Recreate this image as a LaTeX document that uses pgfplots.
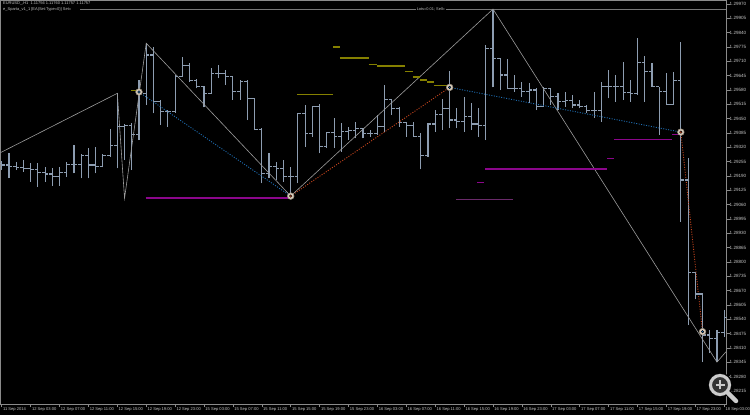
\documentclass[border=0pt]{standalone}
\usepackage{fontspec}
\setmainfont{Liberation Sans}
\usepackage{pgfplots}
\pgfplotsset{compat=1.18}
\usepackage{pgfplotstable}

\definecolor{barcol}{HTML}{8D9DB1}
\definecolor{framecol}{HTML}{8A8A8A}
\definecolor{zigcol}{HTML}{9C9C9C}
\definecolor{lvlmag}{HTML}{8B068B}
\definecolor{lvlmagdim}{HTML}{6A2A6A}
\definecolor{lvlolive}{HTML}{858000}
\definecolor{dotblue}{HTML}{1F6FB5}
\definecolor{dotred}{HTML}{C8461E}
\definecolor{txtcol}{HTML}{C4C4C4}
\definecolor{ringfill}{HTML}{DCD0C0}
\definecolor{ringdraw}{HTML}{9A9080}
\definecolor{topline}{HTML}{777777}

% OHLC ticks of a bar chart: open to the left, close to the right
\pgfdeclareplotmark{ohlcopen}{\pgfpathmoveto{\pgfqpoint{-3.2bp}{0pt}}\pgfpathlineto{\pgfqpoint{0pt}{0pt}}\pgfusepathqstroke}
\pgfdeclareplotmark{ohlcclose}{\pgfpathmoveto{\pgfqpoint{0pt}{0pt}}\pgfpathlineto{\pgfqpoint{3.2bp}{0pt}}\pgfusepathqstroke}

% EURUSD H1 bars, bar index 0 = 11 Sep 2014 23:00
\pgfplotstableread{
i o h l c
0 1.29247 1.29259 1.29217 1.29240
1 1.29240 1.29293 1.29179 1.29232
2 1.29232 1.29255 1.29217 1.29229
3 1.29229 1.29262 1.29209 1.29225
4 1.29225 1.29247 1.29164 1.29220
5 1.29220 1.29250 1.29141 1.29205
6 1.29205 1.29232 1.29164 1.29199
7 1.29199 1.29225 1.29145 1.29187
8 1.29187 1.29232 1.29145 1.29205
9 1.29205 1.29252 1.29187 1.29243
10 1.29243 1.29330 1.29202 1.29243
11 1.29243 1.29288 1.29179 1.29281
12 1.29281 1.29316 1.29179 1.29240
13 1.29240 1.29323 1.29202 1.29235
14 1.29235 1.29290 1.29229 1.29282
15 1.29282 1.29402 1.29277 1.29330
16 1.29330 1.29565 1.29225 1.29413
17 1.29413 1.29426 1.29262 1.29418
18 1.29418 1.29429 1.29217 1.29380
19 1.29380 1.29625 1.29353 1.29565
20 1.29565 1.29792 1.29512 1.29739
21 1.29739 1.29776 1.29474 1.29527
22 1.29527 1.29535 1.29421 1.29481
23 1.29481 1.29489 1.29413 1.29481
24 1.29481 1.29648 1.29477 1.29640
25 1.29640 1.29731 1.29640 1.29693
26 1.29693 1.29701 1.29618 1.29625
27 1.29625 1.29628 1.29588 1.29595
28 1.29595 1.29598 1.29501 1.29565
29 1.29565 1.29678 1.29562 1.29656
30 1.29656 1.29693 1.29633 1.29656
31 1.29656 1.29671 1.29603 1.29640
32 1.29640 1.29643 1.29535 1.29575
33 1.29575 1.29625 1.29535 1.29618
34 1.29618 1.29625 1.29444 1.29542
35 1.29542 1.29542 1.29398 1.29402
36 1.29402 1.29406 1.29157 1.29202
37 1.29202 1.29293 1.29179 1.29232
38 1.29232 1.29255 1.29172 1.29225
39 1.29225 1.29262 1.29164 1.29187
40 1.29187 1.29231 1.29099 1.29187
41 1.29187 1.29476 1.29158 1.29474
42 1.29474 1.29512 1.29323 1.29384
43 1.29384 1.29507 1.29368 1.29504
44 1.29504 1.29515 1.29293 1.29323
45 1.29323 1.29391 1.29316 1.29386
46 1.29386 1.29452 1.29316 1.29368
47 1.29368 1.29429 1.29300 1.29391
48 1.29391 1.29413 1.29353 1.29398
49 1.29398 1.29436 1.29361 1.29406
50 1.29406 1.29406 1.29361 1.29384
51 1.29384 1.29398 1.29368 1.29384
52 1.29384 1.29467 1.29376 1.29413
53 1.29413 1.29603 1.29391 1.29535
54 1.29535 1.29538 1.29467 1.29497
55 1.29497 1.29504 1.29413 1.29432
56 1.29432 1.29436 1.29368 1.29421
57 1.29421 1.29436 1.29368 1.29371
58 1.29371 1.29384 1.29220 1.29285
59 1.29285 1.29429 1.29277 1.29426
60 1.29426 1.29489 1.29391 1.29467
61 1.29467 1.29538 1.29398 1.29497
62 1.29497 1.29667 1.29406 1.29444
63 1.29444 1.29497 1.29406 1.29436
64 1.29436 1.29547 1.29391 1.29459
65 1.29459 1.29520 1.29398 1.29426
66 1.29426 1.29497 1.29368 1.29421
67 1.29421 1.29784 1.29353 1.29769
68 1.29769 1.29947 1.29592 1.29724
69 1.29724 1.29724 1.29580 1.29648
70 1.29648 1.29719 1.29583 1.29588
71 1.29588 1.29648 1.29572 1.29588
72 1.29588 1.29618 1.29550 1.29572
73 1.29572 1.29610 1.29520 1.29580
74 1.29580 1.29589 1.29489 1.29504
75 1.29504 1.29595 1.29504 1.29588
76 1.29588 1.29588 1.29512 1.29550
77 1.29550 1.29565 1.29489 1.29527
78 1.29527 1.29572 1.29504 1.29531
79 1.29531 1.29557 1.29497 1.29512
80 1.29512 1.29535 1.29497 1.29507
81 1.29507 1.29512 1.29474 1.29489
82 1.29489 1.29572 1.29452 1.29489
83 1.29489 1.29618 1.29436 1.29595
84 1.29595 1.29671 1.29542 1.29595
85 1.29595 1.29648 1.29527 1.29595
86 1.29595 1.29708 1.29535 1.29568
87 1.29568 1.29625 1.29527 1.29565
88 1.29565 1.29814 1.29557 1.29704
89 1.29704 1.29734 1.29527 1.29663
90 1.29663 1.29701 1.29595 1.29595
91 1.29595 1.29595 1.29376 1.29572
92 1.29572 1.29656 1.29512 1.29516
93 1.29516 1.29663 1.29516 1.29625
94 1.29625 1.29799 1.28983 1.29172
95 1.29172 1.29272 1.28514 1.28751
96 1.28751 1.28756 1.28631 1.28655
97 1.28655 1.28655 1.28346 1.28469
98 1.28469 1.28491 1.28387 1.28455
99 1.28455 1.28491 1.28346 1.28482
100 1.28482 1.28582 1.28460 1.28550
}\ohlc

\begin{document}
\begin{tikzpicture}
\fill[black] (0,0) rectangle (750bp,415bp);
\useasboundingbox (0,0) rectangle (750bp,415bp);
\begin{axis}[
  at={(0.5bp,414.5bp)}, anchor=north west,
  width=725.5bp, height=403.5bp, scale only axis,
  xmin=-0.17, xmax=100.25, ymin=1.28156, ymax=1.29986,
  axis line style={framecol, line width=0.8bp},
  tick align=outside, major tick length=3.5bp,
  tick style={framecol, line width=0.6bp},
  xtick={0,4,...,100},
  xticklabels={11 Sep 2014,12 Sep 03:00,12 Sep 07:00,12 Sep 11:00,12 Sep 15:00,12 Sep 19:00,12 Sep 23:00,15 Sep 03:00,15 Sep 07:00,15 Sep 11:00,15 Sep 15:00,15 Sep 19:00,15 Sep 23:00,16 Sep 03:00,16 Sep 07:00,16 Sep 11:00,16 Sep 15:00,16 Sep 19:00,16 Sep 23:00,17 Sep 03:00,17 Sep 07:00,17 Sep 11:00,17 Sep 15:00,17 Sep 19:00,17 Sep 23:00,18 Sep 03:00},
  x tick label style={anchor=north west, font=\fontsize{4.1}{5}\selectfont, text=txtcol, inner sep=0pt, xshift=1.2bp},
  ytick={1.28215,1.28280,1.28345,1.28410,1.28475,1.28540,1.28605,1.28670,1.28735,1.28800,1.28865,1.28930,1.28995,1.29060,1.29125,1.29190,1.29255,1.29320,1.29385,1.29450,1.29515,1.29580,1.29645,1.29710,1.29775,1.29840,1.29905,1.29970},
  yticklabel pos=right,
  scaled y ticks=false,
  y tick label style={anchor=west, font=\fontsize{4.6}{5}\selectfont, text=txtcol, inner sep=0pt,
    /pgf/number format/.cd, fixed, fixed zerofill, precision=5, assume math mode=true},
]
% high-low ranges
\addplot[draw=none, mark=none, forget plot,
  error bars/.cd, y dir=plus, y explicit, error mark=none,
  error bar style={draw=barcol, line width=1.1bp}]
  table[x=i, y=l, y error expr=\thisrow{h}-\thisrow{l}] {\ohlc};
% open and close ticks
\addplot[only marks, mark=ohlcopen, mark options={draw=barcol, line width=1.1bp}] table[x=i, y=o] {\ohlc};
\addplot[only marks, mark=ohlcclose, mark options={draw=barcol, line width=1.1bp}] table[x=i, y=c] {\ohlc};

% order line at the top
\addplot[topline, line width=1.2bp] coordinates {(10.84,1.29944) (100.25,1.29944)};

% zigzag
\addplot[zigcol, line width=0.6bp] coordinates {(-0.17,1.29296) (16,1.29565) (17,1.29089) (20,1.29792) (40,1.29099) (68,1.29947) (99,1.28346) (100.25,1.28393)};

% swing connections
\addplot[dotblue, line width=0.9bp, dash pattern=on 1bp off 1.5bp] coordinates {(19,1.29571) (40,1.29099)};
\addplot[dotred, line width=0.9bp, dash pattern=on 1bp off 1.5bp] coordinates {(40,1.29099) (62,1.29592)};
\addplot[dotblue, line width=0.9bp, dash pattern=on 1bp off 1.5bp] coordinates {(62,1.29592) (94,1.29389)};
\addplot[dotred, line width=0.9bp, dash pattern=on 1bp off 1.5bp] coordinates {(94,1.29389) (97,1.28484)};

% support levels
\addplot[lvlmag, line width=2bp] coordinates {(19.9,1.29089) (39.7,1.29089)};
\addplot[lvlmag, line width=1.5bp] coordinates {(66.9,1.29222) (83.8,1.29222)};
\addplot[lvlmag, line width=1.5bp] coordinates {(83.8,1.29270) (84.7,1.29270)};
\addplot[lvlmag, line width=1.5bp] coordinates {(84.8,1.29356) (92.8,1.29356)};
\addplot[lvlmag, line width=1.5bp] coordinates {(92.8,1.29379) (93.8,1.29379)};
\addplot[lvlmag, line width=1.5bp] coordinates {(65.8,1.29161) (66.8,1.29161)};
\addplot[lvlmagdim, line width=1bp] coordinates {(62.9,1.29084) (70.8,1.29084)};

% resistance levels
\addplot[lvlolive, line width=1.5bp] coordinates {(17.9,1.29578) (18.9,1.29578)};
\addplot[lvlolive, line width=1.5bp] coordinates {(40.9,1.29559) (45.8,1.29559)};
\addplot[lvlolive, line width=1.5bp] coordinates {(45.9,1.29776) (46.8,1.29776)};
\addplot[lvlolive, line width=1.5bp] coordinates {(46.8,1.29726) (50.8,1.29726)};
\addplot[lvlolive, line width=1.5bp] coordinates {(50.8,1.29696) (51.9,1.29696)};
\addplot[lvlolive, line width=1.5bp] coordinates {(51.9,1.29690) (55.8,1.29690)};
\addplot[lvlolive, line width=1.5bp] coordinates {(55.8,1.29665) (56.9,1.29665)};
\addplot[lvlolive, line width=1.5bp] coordinates {(56.9,1.29639) (57.9,1.29639)};
\addplot[lvlolive, line width=1.5bp] coordinates {(57.9,1.29625) (58.9,1.29625)};
\addplot[lvlolive, line width=1.5bp] coordinates {(58.9,1.29616) (59.8,1.29616)};
\addplot[lvlolive, line width=1.5bp] coordinates {(59.8,1.29601) (61.8,1.29601)};

% swing points
\addplot[only marks, mark=*, mark size=3.3bp, mark options={fill=ringfill, draw=ringdraw, line width=0.6bp}]
  coordinates {(19,1.29571) (40,1.29099) (62,1.29592) (94,1.29389) (97,1.28484)};
\addplot[only marks, mark=*, mark size=1.3bp, mark options={fill=dotblue, draw=none}]
  coordinates {(19,1.29571) (62,1.29592) (97,1.28484)};
\addplot[only marks, mark=*, mark size=1.3bp, mark options={fill=dotred, draw=none}]
  coordinates {(40,1.29099) (94,1.29389)};

\node[anchor=center, fill=black, inner sep=0.6bp, text=txtcol, font=\fontsize{3.9}{4.5}\selectfont]
  at (axis cs:59.4,1.29944) {Lots=0.01; Sell=};
\node[anchor=north west, align=left, inner sep=0pt, text=txtcol, font=\fontsize{4}{5.6}\selectfont]
  at ([xshift=2.5bp,yshift=-1.3bp]rel axis cs:0,1) {EURUSD\_,H1\ \ 1.11756 1.11760 1.11757 1.11757\\e\_Sparta\_v1\_1 [EA(Set:Type=0)] Set=};
\end{axis}
% viewer zoom button
\begin{scope}[shift={(720bp,30bp)}]
  \draw[black, line width=6.5bp, line cap=round] (7bp,-7bp) -- (16bp,-16bp);
  \draw[black, fill=black!80!white, line width=1bp] (0,0) circle (12bp);
  \draw[white!80!black, line width=3bp] (0,0) circle (9.5bp);
  \draw[white!80!black, line width=4.5bp, line cap=round] (8bp,-8bp) -- (16bp,-16bp);
  \draw[white!80!black, line width=2.2bp] (-4.5bp,0) -- (4.5bp,0) (0,-4.5bp) -- (0,4.5bp);
\end{scope}
\end{tikzpicture}
\end{document}
